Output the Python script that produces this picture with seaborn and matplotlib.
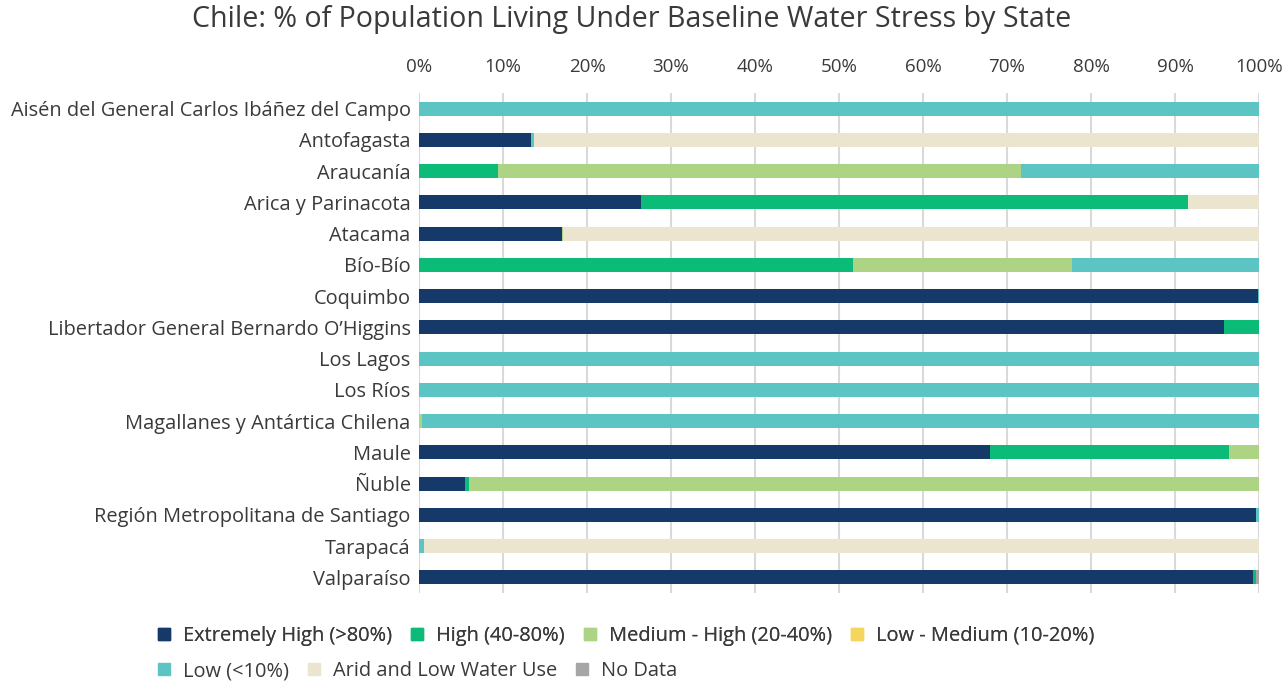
import matplotlib
matplotlib.use("Agg")
import numpy as np
import pandas as pd
import seaborn as sns
import matplotlib.pyplot as plt
from matplotlib.lines import Line2D

states = [
    "Aisén del General Carlos Ibáñez del Campo",
    "Antofagasta",
    "Araucanía",
    "Arica y Parinacota",
    "Atacama",
    "Bío-Bío",
    "Coquimbo",
    "Libertador General Bernardo O’Higgins",
    "Los Lagos",
    "Los Ríos",
    "Magallanes y Antártica Chilena",
    "Maule",
    "Ñuble",
    "Región Metropolitana de Santiago",
    "Tarapacá",
    "Valparaíso",
]

extremely_high = [0, 13.3, 0, 26.4, 17.0, 0, 99.9, 95.8, 0, 0, 0, 68.0, 5.5, 99.7, 0, 99.3]
high           = [0, 0, 9.4, 65.1, 0, 51.7, 0, 4.2, 0, 0, 0, 28.4, 0.5, 0, 0, 0.3]
medium_high    = [0, 0, 62.3, 0, 0.2, 26.0, 0, 0, 0, 0, 0.3, 3.6, 94.0, 0, 0, 0]
low_medium     = [0, 0, 0, 0, 0, 0, 0, 0, 0, 0, 0, 0, 0, 0, 0, 0]
low            = [100, 0.4, 28.3, 0, 0, 22.3, 0.1, 0, 100, 100, 99.7, 0, 0, 0.3, 0.6, 0]
arid           = [0, 86.3, 0, 8.5, 82.8, 0, 0, 0, 0, 0, 0, 0, 0, 0, 99.4, 0]
no_data        = [0, 0, 0, 0, 0, 0, 0, 0, 0, 0, 0, 0, 0, 0, 0, 0.4]

series_names = ["Extremely High (>80%)", "High (40-80%)", "Medium - High (20-40%)",
                "Low - Medium (10-20%)", "Low (<10%)", "Arid and Low Water Use", "No Data"]
colors = ["#153a6a", "#0bbb77", "#add484", "#f5d55d", "#5cc5c3", "#ebe5cf", "#a6a6a6"]

title = "Chile: % of Population Living Under Baseline Water Stress by State"
tick_vals = [0, 10, 20, 30, 40, 50, 60, 70, 80, 90, 100]
tick_labels = [f"{v}%" for v in tick_vals]

sns.set_theme(style="white")
plt.rcParams["font.family"] = ["Open Sans", "DejaVu Sans"]
text_color = "#3a3a3a"

df = pd.DataFrame({"state": states})
values = [extremely_high, high, medium_high, low_medium, low, arid, no_data]
cum = np.cumsum(np.array(values, dtype=float), axis=0)

fig = plt.figure(figsize=(12.88, 6.82), dpi=100)
ax = fig.add_axes([419 / 1288, 1 - 593 / 682, 840 / 1288, 500 / 682])

ax.set_axisbelow(True)
for x in tick_vals:
    ax.axvline(x, color="#d9d9d9", lw=1.5, zorder=0)

for i in range(len(values) - 1, -1, -1):
    df["v"] = cum[i]
    sns.barplot(data=df, x="v", y="state", order=states, orient="h",
                color=colors[i], saturation=1, width=0.45, errorbar=None,
                ax=ax, zorder=2, linewidth=0)

ax.set_xlim(0, 100)
ax.set_ylim(15.5, -0.5)
ax.set_xlabel("")
ax.set_ylabel("")
ax.xaxis.tick_top()
ax.set_xticks(tick_vals)
ax.set_xticklabels(tick_labels)
ax.tick_params(axis="x", length=0, pad=12, labelsize=13.5, labelcolor=text_color)
ax.tick_params(axis="y", length=0, pad=6, labelsize=14.4, labelcolor=text_color)
for s in ax.spines.values():
    s.set_visible(False)
ax.grid(False)

fig.text(632 / 1288, 1 - 20 / 682, title, ha="center", va="center",
         fontsize=20.6, color=text_color)

handles = [Line2D([0], [0], marker="s", linestyle="none", markersize=8,
                  markerfacecolor=c, markeredgecolor=c) for c in colors]
kw = dict(frameon=False, fontsize=14.4, handlelength=0.7, handletextpad=0.6,
          columnspacing=0.9, borderaxespad=0, borderpad=0, labelcolor=text_color)
leg1 = fig.legend(handles[:4], series_names[:4], loc="center left",
                  bbox_to_anchor=(157 / 1288, 1 - 636 / 682), ncol=4, **kw)
fig.add_artist(leg1)
leg2 = fig.legend(handles[4:], series_names[4:], loc="center left",
                  bbox_to_anchor=(157 / 1288, 1 - 671 / 682), ncol=3, **kw)

fig.savefig("out.png", dpi=100)
